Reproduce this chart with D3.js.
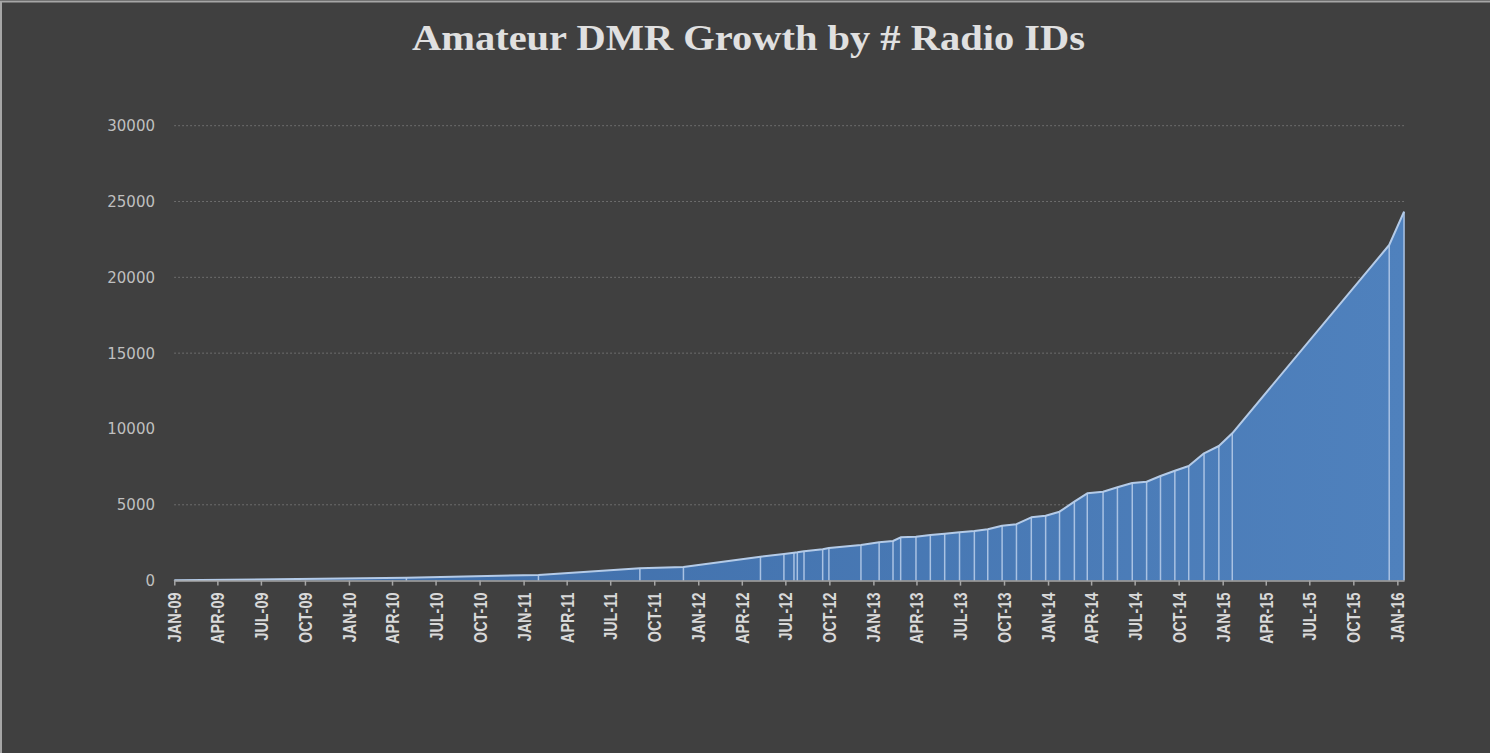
<!DOCTYPE html>
<html>
<head>
<meta charset="utf-8">
<script src="https://cdn.jsdelivr.net/npm/d3@7"></script>
<style>
  body { margin: 0; background: #404040; }
  .chart { width: 1490px; height: 753px; }
</style>
</head>
<body>
<div class="chart"></div>
<script>
// data (date of each sample, number of radio IDs)
var sampleDates = [
  "2009-01-01", "2010-05-01", "2011-02-01", "2011-09-01", "2011-12-01",
  "2012-05-10", "2012-06-28", "2012-07-19", "2012-07-26", "2012-08-09",
  "2012-09-17", "2012-09-30", "2012-12-06", "2013-01-13", "2013-02-11",
  "2013-02-27", "2013-03-31", "2013-04-30", "2013-05-30", "2013-06-30",
  "2013-07-31", "2013-08-28", "2013-09-27", "2013-10-27", "2013-11-27",
  "2013-12-27", "2014-01-25", "2014-02-25", "2014-03-24", "2014-04-26",
  "2014-05-26", "2014-06-26", "2014-07-26", "2014-08-24", "2014-09-23",
  "2014-10-22", "2014-11-23", "2014-12-24", "2015-01-21", "2015-12-15",
  "2016-01-15"
];
var radioIds = [
  20, 190, 370, 811, 900,
  1576, 1754, 1840, 1866, 1932,
  2064, 2150, 2348, 2526, 2612,
  2856, 2895, 3007, 3093, 3185,
  3271, 3383, 3621, 3720, 4175,
  4280, 4544, 5204, 5757, 5863,
  6153, 6437, 6522, 6898, 7248,
  7558, 8395, 8877, 9714, 22133,
  24330
];
var yTicks = [0, 5000, 10000, 15000, 20000, 25000, 30000];
var gridValues = [5000, 15000, 20000, 25000, 30000]; // the 10000 line is not drawn in the original
var axisStart = "2009-01-01";
var axisEnd = "2016-01-01";
var chartTitle = "Amateur DMR Growth by # Radio IDs";

var svgWidth = 1490;
var svgHeight = 753;

var parseDate = d3.timeParse("%Y-%m-%d");
var sourceData = sampleDates.map(function(d, i) {
  return { date: parseDate(d), value: radioIds[i] };
});

var svg = d3.select(".chart")
  .append("svg")
  .attr("width", svgWidth)
  .attr("height", svgHeight);

// background and frame
svg.append("rect")
  .attr("width", svgWidth)
  .attr("height", svgHeight)
  .attr("fill", "#404040");
svg.append("rect")
  .attr("x", 1)
  .attr("y", 1.5)
  .attr("width", svgWidth + 10)
  .attr("height", svgHeight + 10)
  .attr("fill", "none")
  .attr("stroke", "#a6a6a6")
  .attr("stroke-width", 2);

// gradient for the area fill
var grad = svg.append("defs").append("linearGradient")
  .attr("id", "areaFill")
  .attr("x1", "0%").attr("x2", "100%")
  .attr("y1", "0%").attr("y2", "0%");
grad.append("stop").attr("offset", "0%").attr("stop-color", "#3d6ba6");
grad.append("stop").attr("offset", "100%").attr("stop-color", "#4f81bd");

// scales: the axis runs from the first sample to the last one
var lastDate = d3.max(sourceData, d => d.date);
var xScale = d3.scaleTime()
  .domain([parseDate(axisStart), lastDate])
  .range([174.3, 174.3 + 0.4785 * d3.timeDay.count(parseDate(axisStart), lastDate)]);

var yScale = d3.scaleLinear()
  .domain([0, 30000])
  .range([580.6, 125.7]);

// dotted gridlines
svg.append("g")
  .selectAll("line")
  .data(gridValues)
  .enter()
  .append("line")
  .attr("x1", xScale.range()[0])
  .attr("x2", xScale.range()[1])
  .attr("y1", d => yScale(d))
  .attr("y2", d => yScale(d))
  .attr("stroke", "#7a7a7a")
  .attr("stroke-width", 1)
  .attr("stroke-dasharray", "1.5,2.5");

// area
var area = d3.area()
  .x(d => xScale(d.date))
  .y0(yScale(0))
  .y1(d => yScale(d.value));

svg.append("path")
  .datum(sourceData)
  .attr("d", area)
  .attr("fill", "url(#areaFill)");

// drop lines at each sample
svg.append("g")
  .selectAll("line")
  .data(sourceData)
  .enter()
  .append("line")
  .attr("x1", d => xScale(d.date))
  .attr("x2", d => xScale(d.date))
  .attr("y1", yScale(0))
  .attr("y2", d => yScale(d.value))
  .attr("stroke", "#a9c2e3")
  .attr("stroke-width", 1.5);

// top outline
var line = d3.line()
  .x(d => xScale(d.date))
  .y(d => yScale(d.value));

svg.append("path")
  .datum(sourceData)
  .attr("d", line)
  .attr("fill", "none")
  .attr("stroke", "#b4cbe8")
  .attr("stroke-width", 2)
  .attr("stroke-linejoin", "round");

// x axis, one tick per quarter
var xTicks = d3.timeMonth.every(3).range(parseDate(axisStart), d3.timeDay.offset(parseDate(axisEnd), 1));
var bottomAxis = d3.axisBottom(xScale)
  .tickValues(xTicks)
  .tickSizeInner(5)
  .tickSizeOuter(0)
  .tickFormat(d => d3.timeFormat("%b-%y")(d).toUpperCase());

var xAxis = svg.append("g")
  .attr("transform", `translate(0, ${yScale(0)})`)
  .call(bottomAxis);

xAxis.select(".domain")
  .attr("stroke", "#a6a6a6")
  .attr("stroke-width", 1.5);
xAxis.selectAll(".tick line")
  .attr("stroke", "#a6a6a6")
  .attr("stroke-width", 1.5);
// condensed look: rotate, then squeeze along the text direction
xAxis.selectAll(".tick text")
  .attr("transform", "rotate(-90) scale(0.8, 1)")
  .attr("x", -15)
  .attr("y", 0)
  .attr("dy", "0.36em")
  .attr("text-anchor", "end")
  .attr("fill", "#d9d9d9")
  .style("font-family", "'Liberation Sans', Arial, sans-serif")
  .style("font-weight", "bold")
  .style("font-size", "18px");

// y axis labels, no line
svg.append("g")
  .selectAll("text")
  .data(yTicks)
  .enter()
  .append("text")
  .attr("x", 155)
  .attr("y", d => yScale(d))
  .attr("dy", "0.36em")
  .attr("text-anchor", "end")
  .attr("fill", "#bfbfbf")
  .style("font-family", "'DejaVu Sans', sans-serif")
  .style("font-size", "15px")
  .text(d => d);

// title
svg.append("text")
  .attr("x", 748.5)
  .attr("y", 50)
  .attr("text-anchor", "middle")
  .attr("textLength", 673)
  .attr("lengthAdjust", "spacingAndGlyphs")
  .attr("fill", "#e0e0e0")
  .style("font-family", "'Liberation Serif', 'DejaVu Serif', serif")
  .style("font-weight", "bold")
  .style("font-size", "35px")
  .text(chartTitle);
</script>
</body>
</html>
